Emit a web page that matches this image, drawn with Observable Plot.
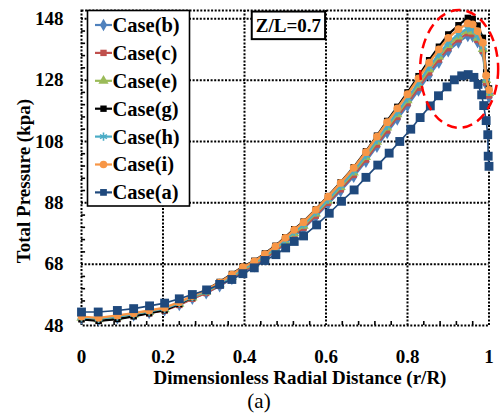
<!DOCTYPE html>
<html><head><meta charset="utf-8">
<script src="https://cdn.jsdelivr.net/npm/d3@7"></script>
<script src="https://cdn.jsdelivr.net/npm/@observablehq/plot@0.6"></script>
<style>body{margin:0;background:#fff}#chart{width:500px;height:417px}</style>
</head><body><div id="chart"></div>
<script>
// ---- data ----
const xTicks = [0, 0.2, 0.4, 0.6, 0.8, 1];
const yTicks = [48, 68, 88, 108, 128, 148];
const caseNames = ["Case(b)", "Case(c)", "Case(e)", "Case(g)", "Case(h)", "Case(i)", "Case(a)"];

const xCluster = [0, 0.042, 0.088, 0.128, 0.166, 0.204, 0.240, 0.272, 0.306, 0.339, 0.369, 0.396, 0.424, 0.450, 0.476, 0.500, 0.522, 0.545, 0.575, 0.605, 0.636, 0.668, 0.698, 0.725, 0.750, 0.775, 0.800, 0.827, 0.853, 0.877, 0.900, 0.925, 0.948, 0.960, 0.972, 0.985, 0.993, 1.000];
const caseB = [50.4, 49.9, 50.5, 51.4, 52.2, 53.1, 54.8, 56.8, 58.6, 60.9, 63.3, 65.6, 67.4, 69.7, 72.1, 74.8, 77.2, 79.6, 83.5, 87.6, 91.9, 96.6, 101.5, 106.4, 110.9, 115.3, 119.7, 124.7, 129.6, 133.8, 137.5, 140.4, 142.5, 142.3, 140.5, 137.0, 126.6, 122.5];
const caseC = [50.2, 49.6, 50.2, 51.2, 52.0, 52.9, 54.7, 56.7, 58.6, 61.0, 63.4, 65.7, 67.6, 69.9, 72.3, 75.0, 77.5, 79.9, 83.8, 88.0, 92.4, 97.1, 102.1, 107.0, 111.6, 116.0, 120.5, 125.5, 130.5, 134.7, 138.4, 141.3, 143.3, 143.0, 141.1, 137.5, 127.2, 123.0];
const caseE = [50.5, 50.0, 50.7, 51.5, 52.4, 53.3, 55.1, 57.1, 59.0, 61.4, 63.9, 66.2, 68.1, 70.4, 72.9, 75.6, 78.1, 80.5, 84.5, 88.7, 93.1, 97.9, 102.9, 107.9, 112.5, 116.9, 121.4, 126.5, 131.5, 135.7, 139.4, 142.2, 144.1, 143.8, 141.8, 138.1, 128.0, 123.8];
const caseG = [50.0, 49.5, 50.1, 51.0, 52.0, 53.0, 55.0, 57.2, 59.7, 62.2, 64.8, 67.2, 69.1, 71.5, 74.0, 76.8, 79.4, 81.9, 85.9, 90.2, 94.7, 99.6, 104.8, 109.9, 114.7, 119.3, 124.0, 129.3, 134.5, 138.9, 142.9, 145.9, 148.3, 148.0, 145.8, 141.8, 130.5, 125.3];
const caseH = [50.6, 50.2, 50.9, 51.7, 52.6, 53.5, 55.3, 57.3, 59.2, 61.6, 64.1, 66.5, 68.4, 70.7, 73.2, 75.9, 78.5, 80.9, 84.9, 89.1, 93.6, 98.4, 103.5, 108.5, 113.1, 117.6, 122.1, 127.2, 132.3, 136.5, 140.2, 143.0, 144.9, 144.6, 142.5, 138.8, 128.6, 124.2];
const caseI = [50.9, 50.5, 51.3, 52.0, 52.9, 53.8, 55.6, 57.6, 59.6, 62.0, 64.6, 67.0, 68.9, 71.3, 73.8, 76.6, 79.2, 81.7, 85.7, 90.0, 94.5, 99.4, 104.5, 109.6, 114.3, 118.8, 123.4, 128.6, 133.7, 138.0, 141.8, 144.6, 146.5, 146.2, 144.0, 140.2, 129.5, 124.8];
const xCaseA = [0, 0.041, 0.088, 0.128, 0.167, 0.204, 0.240, 0.272, 0.307, 0.339, 0.369, 0.396, 0.424, 0.450, 0.477, 0.501, 0.522, 0.545, 0.577, 0.608, 0.638, 0.669, 0.698, 0.727, 0.755, 0.781, 0.808, 0.831, 0.856, 0.876, 0.897, 0.915, 0.933, 0.949, 0.963, 0.973, 0.982, 0.987, 0.993, 0.997, 0.998, 1.000];
const caseA = [52.4, 52.4, 52.9, 53.5, 54.4, 55.3, 56.7, 58.1, 59.6, 61.4, 63.0, 64.9, 66.8, 69.2, 71.1, 73.3, 75.4, 77.2, 80.8, 84.6, 88.5, 92.2, 96.3, 100.3, 104.2, 108.0, 112.0, 115.8, 119.6, 122.9, 125.8, 128.1, 129.4, 129.8, 128.9, 126.6, 123.2, 119.7, 114.8, 110.2, 103.2, 99.9];

// annotations (data units)
const zlLabel = "Z/L=0.7";
const zlBox = {x1: 0.419, x2: 0.599, y1: 141.2, y2: 150.2};
const ellipse = {cx: 0.928, cy: 131.5, rx: 0.0957, ry: 19.2};

// ---- styles ----
const styles = {
  "Case(b)": {color: "#4F81BD", symbol: "diamond", r: 4.0, lw: 2.2, fill: true},
  "Case(c)": {color: "#C0504D", symbol: "square", r: 3.6, lw: 2.2, fill: true},
  "Case(e)": {color: "#9BBB59", symbol: "triangle", r: 3.8, lw: 2.2, fill: true},
  "Case(g)": {color: "#000000", symbol: "square", r: 3.6, lw: 2.2, fill: true},
  "Case(h)": {color: "#4BACC6", symbol: "asterisk", r: 4.0, lw: 2.2, fill: false},
  "Case(i)": {color: "#F79646", symbol: "circle", r: 3.9, lw: 2.4, fill: true},
  "Case(a)": {color: "#1F497D", symbol: "square", r: 5.0, lw: 1.6, fill: true}
};
const seriesData = {
  "Case(b)": [xCluster, caseB], "Case(c)": [xCluster, caseC], "Case(e)": [xCluster, caseE],
  "Case(g)": [xCluster, caseG], "Case(h)": [xCluster, caseH], "Case(i)": [xCluster, caseI],
  "Case(a)": [xCaseA, caseA]
};

const font = '"Liberation Serif","Times New Roman",Times,serif';
const dotted = {stroke: "#000", strokeOpacity: 1, strokeWidth: 2, strokeDasharray: "2,1.6"};
const minorX = d3.range(0.04, 1, 0.04).filter(v => Math.abs(v / 0.2 - Math.round(v / 0.2)) > 1e-6);
const minorY = d3.range(52, 150, 4).filter(v => (v - 48) % 20 !== 0);

const seriesMarks = caseNames.flatMap(name => {
  const s = styles[name];
  const [xs, ys] = seriesData[name];
  const pts = xs.map((x, i) => ({x, y: ys[i]}));
  const dotOpts = s.fill ? {fill: s.color, stroke: "none"} : {stroke: s.color, strokeWidth: 1.8, fill: "none"};
  return [
    Plot.line(pts, {x: "x", y: "y", stroke: s.color, strokeWidth: s.lw}),
    Plot.dot(pts, {x: "x", y: "y", r: s.r, symbol: s.symbol, ...dotOpts})
  ];
});

const plot = Plot.plot({
  width: 500, height: 417,
  marginTop: 10, marginBottom: 92, marginLeft: 81, marginRight: 11.5,
  x: {domain: [0, 1]},
  y: {domain: [48, 150.7]},
  style: {fontFamily: font, fontSize: "19px", fontWeight: "bold", background: "white", overflow: "visible", color: "#000"},
  marks: [
    Plot.gridX(xTicks.slice(1, -1), dotted),
    Plot.gridY(yTicks.slice(1), dotted),
    Plot.ruleX(minorX, {y1: 48, y2: 49.3, ...dotted, strokeDasharray: null, strokeWidth: 1.6}),
    Plot.ruleY(minorY, {x1: 0, x2: 0.01, ...dotted, strokeDasharray: null, strokeWidth: 1.6}),
    Plot.frame(dotted),
    Plot.axisX(xTicks, {tickSize: 0, tickPadding: 24, tickFormat: d => String(d), label: null}),
    Plot.axisY(yTicks, {tickSize: 0, tickPadding: 18, label: null}),
    ...seriesMarks
  ]
});

document.getElementById("chart").appendChild(plot);

const svg = d3.select(plot);
const sx = plot.scale("x"), sy = plot.scale("y");

// red dashed ellipse annotation
svg.append("ellipse")
  .attr("cx", sx.apply(ellipse.cx)).attr("cy", sy.apply(ellipse.cy))
  .attr("rx", sx.apply(ellipse.cx + ellipse.rx) - sx.apply(ellipse.cx))
  .attr("ry", sy.apply(ellipse.cy) - sy.apply(ellipse.cy + ellipse.ry))
  .attr("fill", "none").attr("stroke", "#FF0000").attr("stroke-width", 2.5)
  .attr("stroke-dasharray", "10,6");

// Z/L box
const bx1 = sx.apply(zlBox.x1), bx2 = sx.apply(zlBox.x2), by1 = sy.apply(zlBox.y2), by2 = sy.apply(zlBox.y1);
svg.append("rect").attr("x", bx1).attr("y", by1).attr("width", bx2 - bx1).attr("height", by2 - by1)
  .attr("fill", "#fff").attr("stroke", "#000").attr("stroke-width", 2);
svg.append("text").attr("x", (bx1 + bx2) / 2).attr("y", (by1 + by2) / 2).attr("dy", "0.35em")
  .attr("text-anchor", "middle").attr("font-family", font).attr("font-weight", "bold").attr("font-size", 19)
  .text(zlLabel);

// legend
const lg = svg.append("g");
lg.append("rect").attr("x", 87.5).attr("y", 10.5).attr("width", 102).attr("height", 195.5)
  .attr("fill", "#fff").attr("stroke", "#000").attr("stroke-width", 1.6);
const symMap = {diamond: d3.symbolDiamond, square: d3.symbolSquare, triangle: d3.symbolTriangle, asterisk: d3.symbolAsterisk, circle: d3.symbolCircle};
caseNames.forEach((name, i) => {
  const s = styles[name];
  const y = 25 + i * 27.9;
  lg.append("line").attr("x1", 95).attr("x2", 112).attr("y1", y).attr("y2", y)
    .attr("stroke", s.color).attr("stroke-width", 2.2);
  const size = Math.PI * Math.pow(Math.min(s.r, 3.8), 2);
  lg.append("path").attr("transform", `translate(103.5,${y})`)
    .attr("d", d3.symbol(symMap[s.symbol], size)())
    .attr("fill", s.fill ? s.color : "none").attr("stroke", s.fill ? "none" : s.color).attr("stroke-width", 1.6);
  lg.append("text").attr("x", 112.5).attr("y", y).attr("dy", "0.34em").attr("text-anchor", "start")
    .attr("font-family", font).attr("font-weight", "bold").attr("font-size", 20.5).attr("fill", "#000")
    .text(name);
});

// axis titles
svg.append("text").attr("x", 300).attr("y", 384).attr("text-anchor", "middle")
  .attr("font-family", font).attr("font-weight", "bold").attr("font-size", 19)
  .text("Dimensionless Radial Distance (r/R)");
svg.append("text").attr("transform", "translate(30,181) rotate(-90)").attr("text-anchor", "middle")
  .attr("font-family", font).attr("font-weight", "bold").attr("font-size", 19)
  .text("Total Pressure (kpa)");
svg.append("text").attr("x", 259).attr("y", 408).attr("text-anchor", "middle")
  .attr("font-family", font).attr("font-weight", "normal").attr("font-size", 21)
  .text("(a)");
</script>
</body></html>
